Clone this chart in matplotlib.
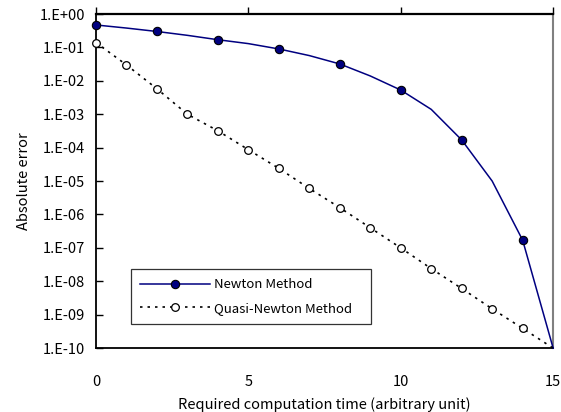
import matplotlib
matplotlib.use("Agg")
import matplotlib.pyplot as plt

plt.rcParams['font.family'] = ['Noto Sans CJK JP', 'DejaVu Sans']

newton_x = [0, 1, 2, 3, 4, 5, 6, 7, 8, 9, 10, 11, 12, 13, 14, 15]
newton_y = [0.47, 0.38, 0.30, 0.23, 0.17, 0.13, 0.09, 0.057, 0.032, 0.014,
            0.0053, 1.4e-3, 1.7e-4, 1.0e-5, 1.7e-7, 1.0e-10]
newton_marks = [0, 2, 4, 6, 8, 10, 12, 14]

quasi_x = [0, 1, 2, 3, 4, 5, 6, 7, 8, 9, 10, 11, 12, 13, 14, 15]
quasi_y = [0.14, 0.03, 0.0058, 1.0e-3, 3.2e-4, 8.7e-5, 2.4e-5, 6.0e-6, 1.6e-6,
           4.0e-7, 1.0e-7, 2.4e-8, 6.1e-9, 1.5e-9, 3.9e-10, 1.0e-10]
quasi_marks = list(range(15))

yticks = [10.0 ** k for k in range(-10, 1)]
ylabels = ["1.E+00" if k == 0 else "1.E-%02d" % (-k) for k in range(-10, 1)]
xticks = [0, 5, 10, 15]

fig = plt.figure(figsize=(5.61, 4.12), dpi=100)
ax = fig.add_axes([0.171, 0.155, 0.815, 0.811])

ax.plot(newton_x, newton_y, color='#000080', lw=1.1, marker='o', ms=6,
        markerfacecolor='#000080', markeredgecolor='black', markeredgewidth=0.8,
        markevery=newton_marks, label='Newton Method', clip_on=False, zorder=3)
ax.plot(quasi_x, quasi_y, color='black', lw=1.2, ls=(0, (1.5, 3)), marker='o', ms=5.5,
        markerfacecolor='white', markeredgecolor='black', markeredgewidth=0.9,
        markevery=quasi_marks, label='Quasi-Newton Method', clip_on=False, zorder=3)

ax.set_yscale('log')
ax.set_ylim(1e-10, 1)
ax.set_xlim(0, 15)
ax.set_yticks(yticks)
ax.set_yticklabels(ylabels)
ax.minorticks_off()
ax.set_xticks(xticks)
ax.set_xticklabels([str(v) for v in xticks])

ax.tick_params(axis='y', direction='in', length=5, width=1, labelsize=10.5, pad=8)
ax.tick_params(axis='x', top=True, bottom=False, labeltop=False, labelbottom=True,
               direction='out', length=5, width=1, labelsize=10.5, pad=14)
for t in ax.xaxis.get_major_ticks():
    t.label2.set_visible(False)

for s in ['left', 'bottom']:
    ax.spines[s].set_linewidth(1.3)
    ax.spines[s].set_color('black')
ax.spines['top'].set_linewidth(1.6)
ax.spines['right'].set_color('#808080')
ax.spines['right'].set_linewidth(1.5)

ax.set_xlabel('Required computation time (arbitrary unit)', fontsize=10.5, labelpad=6)
ax.set_ylabel('Absolute error', fontsize=10.5, labelpad=6)

leg = ax.legend(loc='lower left', bbox_to_anchor=(0.076, 0.072, 0.525, 0.16),
                mode='expand', borderaxespad=0, fontsize=9.5, frameon=True, fancybox=False,
                edgecolor='black', handlelength=5.3, handletextpad=0.3,
                borderpad=0.7, labelspacing=0.8)
leg.get_frame().set_linewidth(0.9)

fig.savefig('out.png', dpi=100)
